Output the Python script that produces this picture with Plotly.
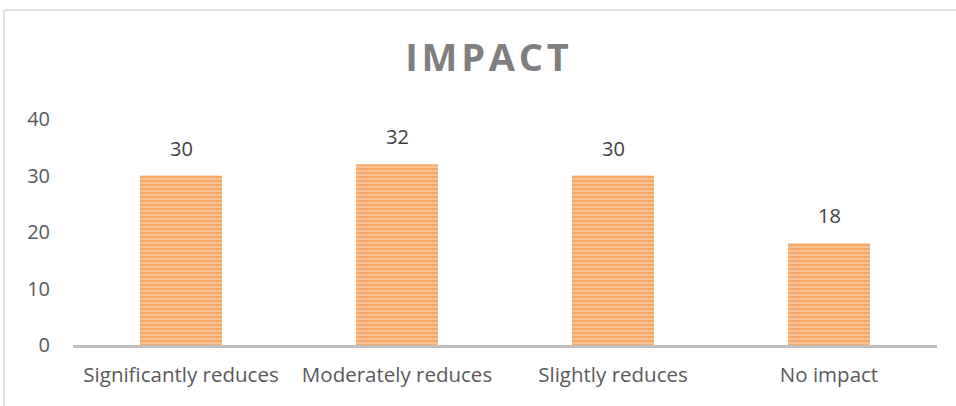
import plotly.graph_objects as go

categories = ["Significantly reduces", "Moderately reduces", "Slightly reduces", "No impact"]
values = [30, 32, 30, 18]
y_ticks = [0, 10, 20, 30, 40]

W, H = 956, 406
L, R, T, B = 73, 19, 119, 61

fig = go.Figure(
    go.Bar(
        x=categories,
        y=values,
        marker=dict(
            color="#F6A868",
            line=dict(width=0),
            pattern=dict(shape="-", fgcolor="#F28A36", bgcolor="#F9C89C", size=4, solidity=0.6),
        ),
        hoverinfo="skip",
    )
)

for c, v in zip(categories, values):
    fig.add_annotation(
        x=c, y=v, text=str(v), showarrow=False, yanchor="bottom", yshift=12,
        font=dict(family="Open Sans", size=20, color="#404040"),
    )

# outer chart frame (left and top edges)
pw, ph = W - L - R, H - T - B
fx0 = (4 - L) / pw
fy1 = (H - B - 10) / ph
fig.add_shape(type="line", xref="paper", yref="paper", x0=fx0, x1=(W - L) / pw + 0.01,
              y0=fy1, y1=fy1, line=dict(color="#D9D9D9", width=1.5))
fig.add_shape(type="line", xref="paper", yref="paper", x0=fx0, x1=fx0,
              y0=fy1, y1=-B / ph - 0.05, line=dict(color="#D9D9D9", width=1.5))

fig.update_layout(
    width=W, height=H,
    margin=dict(l=L, r=R, t=T, b=B),
    paper_bgcolor="white", plot_bgcolor="white",
    bargap=0.62,
    showlegend=False,
    title=dict(
        text="<b>I\u200aM\u200aP\u200aA\u200aC\u200aT</b>",
        x=(487 - 0) / W, xanchor="center", y=1 - 58 / H, yanchor="middle",
        font=dict(family="Open Sans", size=38, color="#7F7F7F"),
    ),
    xaxis=dict(
        showline=True, linecolor="#BFBFBF", linewidth=2.5, showgrid=False,
        ticks="", ticklabelstandoff=10,
        tickfont=dict(family="Open Sans", size=20.5, color="#595959"),
        fixedrange=True,
    ),
    yaxis=dict(
        range=[0, 40], tickvals=y_ticks, showgrid=False, zeroline=False, showline=False,
        ticks="", ticklen=0, ticklabelstandoff=22,
        tickfont=dict(family="Open Sans", size=20, color="#595959"),
        fixedrange=True,
    ),
)

fig.write_html("out.html")
